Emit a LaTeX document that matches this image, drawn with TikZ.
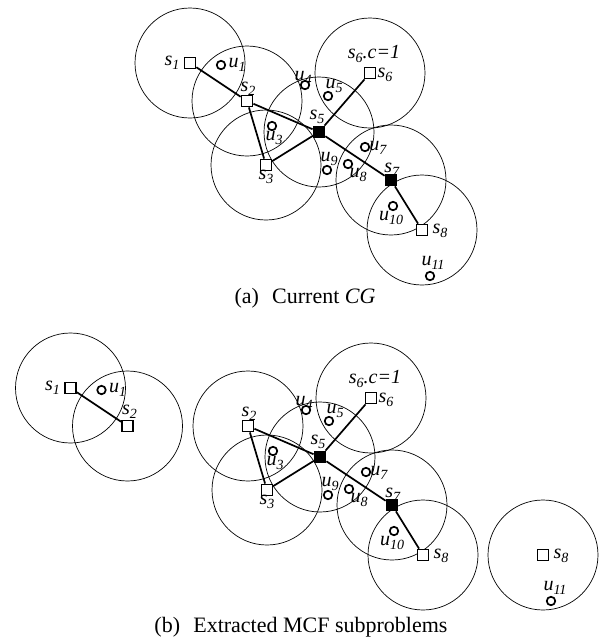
\documentclass[tikz,border=0pt]{standalone}
\usepackage{fontspec}
\setmainfont{Liberation Serif}
\usetikzlibrary{backgrounds}
\newcommand{\nm}[2]{\textit{#1}\raisebox{-.45ex}{\fontsize{14}{14}\selectfont\textit{#2}}}
\tikzset{
  sensor/.style={draw,line width=1.8pt,minimum size=11pt,inner sep=0pt,fill=white},
  hub/.style={sensor,fill=black},
  user/.style={draw,circle,line width=1.7pt,minimum size=8.5pt,inner sep=0pt,fill=white},
  reach/.style={line width=.7pt},
  link/.style={line width=1.7pt},
  lab/.style={font=\fontsize{20}{20}\selectfont,inner sep=0pt},
  captext/.style={font=\fontsize{22}{22}\selectfont,inner sep=0pt}
}
\begin{document}
\begin{tikzpicture}[x=1pt,y=-1pt]
\useasboundingbox (0,0) rectangle (601,641);
% (a) current CG
\foreach \n/\x/\y in {1/190/63,2/247/101,3/266/165,6/370/73,8/422/230}
  \node[sensor] (s\n) at (\x,\y) {};
\node[hub] (s5) at (319,132) {};
\node[hub] (s7) at (391,180) {};
\foreach \n/\x/\y in {1/221/65,3/272/126,4/305/85,5/328/96,7/365/147,8/348/164,9/327/170,10/393/206,11/430/276}
  \node[user] (u\n) at (\x,\y) {};
\begin{scope}[on background layer]
\foreach \n in {1,2,3,5,6,7,8}
  \draw[reach] (s\n.center) circle (55);
\end{scope}
\draw[link] (s1) -- (s2) -- (s5) -- (s7) -- (s8);
\draw[link] (s2) -- (s3) -- (s5) -- (s6);
\foreach \l/\n/\x/\y in {s/1/172/63,u/1/237/65,s/2/248/89,s/3/266/177,u/3/274/138,u/4/303/78,u/5/334/86,s/5/317/117,s/6/385/75,u/7/378/148,u/8/358/175,u/9/329/159,s/7/392/170,u/10/391/218,s/8/440/231,u/11/433/263}
  \node[lab] (l\l\n) at (\x,\y) {\nm{\l}{\n}};
\node[lab] (cap6) at (374,54) {\nm{s}{6}\textit{.c=1}};
\node[captext] (capa) at (305,298) {(a)\hspace{.6em}Current \textit{CG}};
% (b) extracted MCF subproblems
\begin{scope}[shift={(-119.5,325)}]
\foreach \n/\x/\y in {1/190/63,2/247/101}
  \node[sensor] (a\n) at (\x,\y) {};
\node[user] (au1) at (221,65) {};
\begin{scope}[on background layer]
\foreach \n in {1,2}
  \draw[reach] (a\n.center) circle (55);
\end{scope}
\draw[link] (a1) -- (a2);
\foreach \l/\n/\x/\y in {s/1/172/63,u/1/237/65,s/2/249/87}
  \node[lab] (la\l\n) at (\x,\y) {\nm{\l}{\n}};
\end{scope}
\begin{scope}[shift={(1,325)}]
\foreach \n/\x/\y in {2/247/101,3/266/165,6/370/73,8/422/230}
  \node[sensor] (b\n) at (\x,\y) {};
\node[hub] (b5) at (319,132) {};
\node[hub] (b7) at (391,180) {};
\foreach \n/\x/\y in {3/272/126,4/305/85,5/328/96,7/365/147,8/348/164,9/327/170,10/393/206}
  \node[user] (bu\n) at (\x,\y) {};
\begin{scope}[on background layer]
\foreach \n in {2,3,5,6,7,8}
  \draw[reach] (b\n.center) circle (55);
\end{scope}
\draw[link] (b2) -- (b5) -- (b7) -- (b8);
\draw[link] (b2) -- (b3) -- (b5) -- (b6);
\foreach \l/\n/\x/\y in {s/2/248/89,s/3/266/177,u/3/274/138,u/4/303/78,u/5/334/86,s/5/317/117,s/6/385/75,u/7/378/148,u/8/358/175,u/9/329/159,s/7/392/170,u/10/391/218,s/8/440/231}
  \node[lab] (lb\l\n) at (\x,\y) {\nm{\l}{\n}};
\node[lab] (bcap6) at (374,54) {\nm{s}{6}\textit{.c=1}};
\end{scope}
\begin{scope}[shift={(121,325)}]
\node[sensor] (c8) at (422,230) {};
\node[user] (cu11) at (430,276) {};
\begin{scope}[on background layer]
\draw[reach] (c8.center) circle (55);
\end{scope}
\foreach \l/\n/\x/\y in {s/8/440/231,u/11/434/263}
  \node[lab] (lc\l\n) at (\x,\y) {\nm{\l}{\n}};
\end{scope}
\node[captext] (capb) at (301,627) {(b)\hspace{.6em}Extracted MCF subproblems};
\end{tikzpicture}
\end{document}
